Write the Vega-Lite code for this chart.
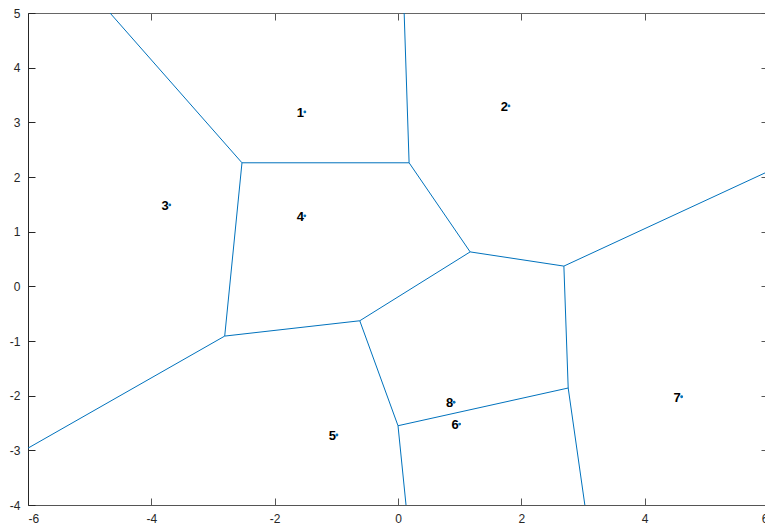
{
  "$schema": "https://vega.github.io/schema/vega-lite/v6.json",
  "width": 740,
  "height": 492,
  "autosize": {"type": "none"},
  "padding": {"left": 28, "top": 13, "right": 0, "bottom": 23},
  "background": "white",
  "config": {
    "view": {"stroke": null},
    "font": "Liberation Sans",
    "axis": {
      "grid": false,
      "tickSize": -7,
      "tickWidth": 1,
      "tickColor": "#262626",
      "domainWidth": 1,
      "labelFontSize": 12,
      "labelColor": "#262626",
      "title": null
    }
  },
  "datasets": {
    "edges": [
      {"x": -2.53, "y": 2.26, "x2": -4.67, "y2": 5},
      {"x": -2.53, "y": 2.26, "x2": 0.18, "y2": 2.26},
      {"x": 0.18, "y": 2.26, "x2": 0.1, "y2": 5},
      {"x": -2.53, "y": 2.26, "x2": -2.81, "y2": -0.91},
      {"x": -2.81, "y": -0.91, "x2": -6, "y2": -2.96},
      {"x": -2.81, "y": -0.91, "x2": -0.62, "y2": -0.63},
      {"x": -0.62, "y": -0.63, "x2": 1.17, "y2": 0.63},
      {"x": 1.17, "y": 0.63, "x2": 0.18, "y2": 2.26},
      {"x": 1.17, "y": 0.63, "x2": 2.69, "y2": 0.37},
      {"x": 2.69, "y": 0.37, "x2": 6, "y2": 2.1},
      {"x": 2.69, "y": 0.37, "x2": 2.76, "y2": -1.86},
      {"x": 2.76, "y": -1.86, "x2": 0.0, "y2": -2.55},
      {"x": 0.0, "y": -2.55, "x2": -0.62, "y2": -0.63},
      {"x": 0.0, "y": -2.55, "x2": 0.13, "y2": -4},
      {"x": 2.76, "y": -1.86, "x2": 3.03, "y2": -4}
    ],
    "points": [
      {"label": "1", "x": -1.51, "y": 3.19},
      {"label": "2", "x": 1.8, "y": 3.3},
      {"label": "3", "x": -3.7, "y": 1.49},
      {"label": "4", "x": -1.51, "y": 1.29},
      {"label": "5", "x": -0.99, "y": -2.72},
      {"label": "6", "x": 1.0, "y": -2.52},
      {"label": "7", "x": 4.6, "y": -2.02},
      {"label": "8", "x": 0.91, "y": -2.12}
    ]
  },
  "layer": [
    {
      "data": {"name": "edges"},
      "mark": {"type": "rule", "color": "#0072BD", "strokeWidth": 1},
      "encoding": {
        "x": {
          "field": "x", "type": "quantitative",
          "scale": {"domain": [-6, 6], "nice": false, "zero": false},
          "axis": {"orient": "bottom", "values": [-6, -4, -2, 0, 2, 4, 6], "labelPadding": 15, "domainColor": "#555555", "tickColor": "#555555", "labelExpr": "datum.value < 0 ? '-' + abs(datum.value) : '' + datum.value"}
        },
        "y": {
          "field": "y", "type": "quantitative",
          "scale": {"domain": [-4, 5], "nice": false, "zero": false},
          "axis": {"orient": "left", "values": [-4, -3, -2, -1, 0, 1, 2, 3, 4, 5], "labelPadding": 15, "domainColor": "#262626", "labelExpr": "datum.value < 0 ? '-' + abs(datum.value) : '' + datum.value"}
        },
        "x2": {"field": "x2"},
        "y2": {"field": "y2"}
      }
    },
    {
      "data": {"name": "points"},
      "mark": {"type": "circle", "size": 8, "color": "#0072BD", "opacity": 1},
      "encoding": {
        "x": {
          "field": "x", "type": "quantitative",
          "scale": {"domain": [-6, 6], "nice": false, "zero": false},
          "axis": {"orient": "top", "values": [-6, -4, -2, 0, 2, 4, 6], "labels": false, "domainColor": "#666666", "tickColor": "#555555"}
        },
        "y": {
          "field": "y", "type": "quantitative",
          "scale": {"domain": [-4, 5], "nice": false, "zero": false},
          "axis": {"orient": "right", "values": [-4, -3, -2, -1, 0, 1, 2, 3, 4, 5], "labels": false, "domainColor": "#666666", "tickColor": "#555555"}
        }
      }
    },
    {
      "data": {"name": "points"},
      "mark": {"type": "text", "align": "right", "baseline": "middle", "dx": -1, "dy": 1, "fontWeight": "bold", "fontSize": 13, "color": "#000000"},
      "encoding": {
        "x": {"field": "x", "type": "quantitative", "scale": {"domain": [-6, 6], "nice": false, "zero": false}, "axis": null},
        "y": {"field": "y", "type": "quantitative", "scale": {"domain": [-4, 5], "nice": false, "zero": false}, "axis": null},
        "text": {"field": "label"}
      }
    }
  ],
  "resolve": {"axis": {"x": "independent", "y": "independent"}}
}
